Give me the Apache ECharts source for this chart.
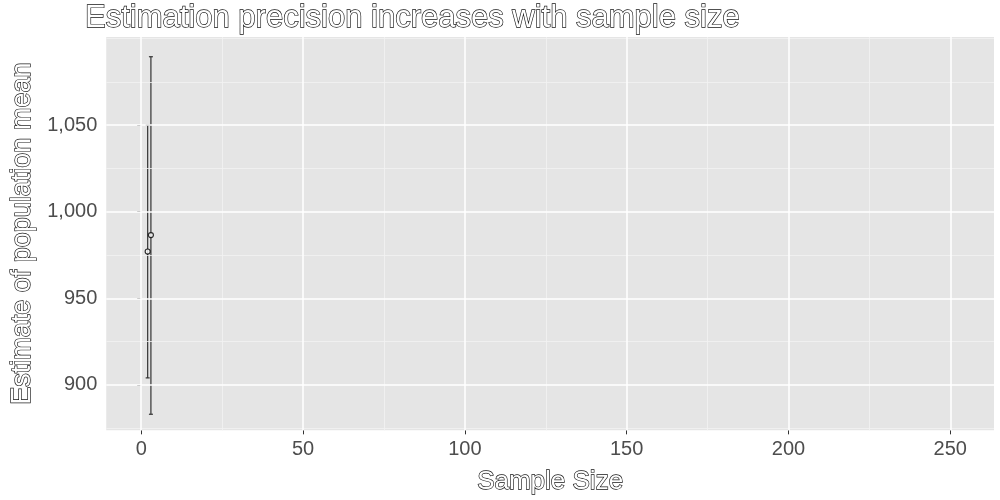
<!DOCTYPE html>
<html><head><meta charset="utf-8">
<script src="https://cdn.jsdelivr.net/npm/echarts@6/dist/echarts.min.js"></script>
<style>html,body{margin:0;background:#fff}#c{width:1000px;height:500px}</style>
</head><body><div id="c"></div>
<script>
var sampleSize = [2, 3];
var meanEst = [977, 986.5];
var lower = [904, 883];
var upper = [1050, 1089.5];
var xTicks = [0, 50, 100, 150, 200, 250];
var xMinor = [25, 75, 125, 175, 225];
var yTicks = [900, 950, 1000, 1050];
var yMinor = [875, 925, 975, 1025, 1075, 1100];

var chart = echarts.init(document.getElementById('c'));
var hollow = {color: '#fff', textBorderColor: '#111', textBorderWidth: 1.3, fontFamily: 'Liberation Sans, Arial'};
var barData = sampleSize.map(function (n, i) { return [n, lower[i], upper[i]]; });
function gl(vals, key, col, w) {
  return vals.map(function (v) {
    var o = {lineStyle: {color: col, width: w, type: 'solid'}};
    o[key] = v;
    return o;
  });
}
var option = {
  backgroundColor: '#fff',
  animation: false,
  title: {
    text: 'Estimation precision increases with sample size',
    left: 80, top: -2,
    textStyle: Object.assign({fontSize: 31, fontWeight: 'normal'}, hollow)
  },
  grid: {left: 81, right: 6, top: 37, bottom: 57, show: true, backgroundColor: '#e5e5e5', borderWidth: 0},
  xAxis: {
    type: 'value', min: -10.8, max: 263.5,
    name: 'Sample Size', nameLocation: 'middle', nameGap: 38,
    nameTextStyle: Object.assign({fontSize: 26}, hollow),
    axisLine: {show: false},
    axisTick: {show: true, length: 4, customValues: xTicks, lineStyle: {color: '#333'}},
    axisLabel: {fontSize: 20, color: '#4d4d4d', margin: 9, customValues: xTicks},
    splitLine: {show: false}
  },
  yAxis: {
    type: 'value', min: 873.7, max: 1100.9,
    name: 'Estimate of population mean', nameLocation: 'middle', nameGap: 60,
    nameTextStyle: Object.assign({fontSize: 27}, hollow),
    axisLine: {show: false},
    axisTick: {show: true, length: 4, customValues: yTicks, lineStyle: {color: '#333'}},
    axisLabel: {fontSize: 20, color: '#4d4d4d', margin: 9, customValues: yTicks},
    splitLine: {show: false}
  },
  series: [{
    type: 'line', data: [], silent: true,
    markLine: {
      silent: true, symbol: 'none', label: {show: false}, animation: false,
      data: [].concat(gl(xMinor, 'xAxis', '#f2f2f2', 0.8), gl(yMinor, 'yAxis', '#f2f2f2', 0.8),
                      gl(xTicks, 'xAxis', '#fff', 1.5), gl(yTicks, 'yAxis', '#fff', 1.5))
    }
  }, {
    type: 'custom',
    data: barData,
    renderItem: function (params, api) {
      var x = api.value(0);
      var lo = api.coord([x, api.value(1)]);
      var hi = api.coord([x, api.value(2)]);
      var w = 2;
      var st = {stroke: '#333', lineWidth: 1.2};
      return {type: 'group', children: [
        {type: 'line', shape: {x1: lo[0], y1: lo[1], x2: hi[0], y2: hi[1]}, style: st},
        {type: 'line', shape: {x1: lo[0] - w, y1: lo[1], x2: lo[0] + w, y2: lo[1]}, style: st},
        {type: 'line', shape: {x1: hi[0] - w, y1: hi[1], x2: hi[0] + w, y2: hi[1]}, style: st}
      ]};
    }
  }, {
    type: 'scatter',
    data: sampleSize.map(function (n, i) { return [n, meanEst[i]]; }),
    symbol: 'circle', symbolSize: 5,
    itemStyle: {color: '#fff', borderColor: '#000', borderWidth: 1.2}
  }]
};
chart.setOption(option);
</script></body></html>
